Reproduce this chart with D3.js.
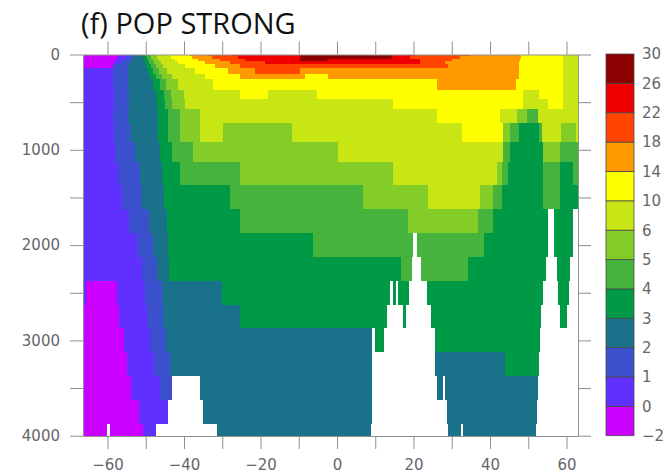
<!DOCTYPE html>
<html><head><meta charset="utf-8">
<script src="https://cdn.jsdelivr.net/npm/d3@7"></script>
<style>body{margin:0;background:#fff} svg{display:block}</style>
</head><body>
<svg id="c" width="666" height="475"></svg>
<script>
const title = "(f) POP STRONG";
const levels = [-2,0,1,2,3,4,5,6,10,14,18,22,26,30];
const colors = ["#cc00ff","#6030ff","#3a50cc","#1a718a","#009945","#46b33c","#84cc28","#c8e614","#ffff00","#ff9900","#ff4500","#ee0000","#8b0000"];
const latMin = -66.4, latMax = 63;
const xTicks = d3.range(-60, 61, 10);
const yTicks = d3.range(0, 4001, 500);
const depthEdges = [0,20,45,70,100,145,200,260,372,470,575,722,915,1130,1370,1620,1870,2125,2375,2625,2875,3125,3375,3625,3875,4000];
// each depth band: runs of [latitude where run starts, temperature] ; null = no data
const bandRuns = [
 [[-66.4,-1],[-56.2,0.5],[-54.3,1.5],[-52.8,2.5],[-51.0,3.5],[-50.2,4.5],[-48.9,5.5],[-47.5,8],[-44.2,12],[-38.4,16],[-34.0,20],[-27.2,24],[-9.7,28],[14.4,24],[20.4,20],[34.7,16],[47.8,12],[59.0,8]],
 [[-66.4,-1],[-57.2,0.5],[-54.9,1.5],[-53.0,2.5],[-50.7,3.5],[-49.8,4.5],[-48.5,5.5],[-47.0,8],[-43.4,12],[-37.9,16],[-32.7,20],[-25.9,24],[-9.7,28],[14.4,24],[19.1,20],[32.1,16],[48.1,12],[59.0,8]],
 [[-66.4,-1],[-57.7,0.5],[-55.6,1.5],[-53.6,2.5],[-50.4,3.5],[-49.4,4.5],[-48.1,5.5],[-46.5,8],[-42.3,12],[-36.3,16],[-30.6,20],[-24.0,24],[-9.7,28],[-2.4,24],[21.7,20],[30.0,16],[47.8,12],[59.0,8]],
 [[-66.4,-1],[-58.3,0.5],[-56.7,1.5],[-54.1,2.5],[-50.2,3.5],[-49.1,4.5],[-47.8,5.5],[-46.0,8],[-41.5,12],[-34.5,16],[-28.0,20],[-18.8,24],[21.7,20],[28.2,16],[47.5,12],[59.0,8]],
 [[-66.4,-1],[-58.5,1.5],[-54.6,2.5],[-49.9,3.5],[-48.7,4.5],[-47.3,5.5],[-45.4,8],[-39.7,12],[-31.9,16],[-25.3,20],[29.0,16],[47.5,12],[59.0,8]],
 [[-66.4,0.5],[-58.5,1.5],[-54.6,2.5],[-49.5,3.5],[-48.1,4.5],[-46.6,5.5],[-44.4,8],[-37.1,12],[-28.5,16],[-21.4,20],[-9.7,16],[47.5,12],[59.0,8]],
 [[-66.4,0.5],[-58.5,1.5],[-54.6,2.5],[-48.9,3.5],[-47.3,4.5],[-45.7,5.5],[-43.2,8],[-34.5,12],[-25.3,16],[-8.4,12],[-2.4,16],[47.5,12],[59.0,8]],
 [[-66.4,0.5],[-58.5,1.5],[-54.6,2.5],[-48.1,3.5],[-46.3,4.5],[-44.6,5.5],[-41.6,8],[-32.4,12],[26.1,16],[46.8,12],[59.0,8]],
 [[-66.4,0.5],[-58.4,1.5],[-54.5,2.5],[-47.3,3.5],[-45.2,4.5],[-43.4,5.5],[-40.0,8],[-25.3,12],[-18.0,8],[-5.2,12],[48.6,8],[52.8,12],[59.0,8]],
 [[-66.4,0.5],[-58.3,1.5],[-54.3,2.5],[-47.0,3.5],[-44.9,4.5],[-43.1,5.5],[-39.7,8],[14.6,12],[48.6,8],[55.1,12],[59.0,8]],
 [[-66.4,0.5],[-58.5,1.5],[-54.6,2.5],[-46.8,3.5],[-44.2,4.5],[-41.0,5.5],[-35.8,8],[26.1,12],[42.6,8],[47.0,5.5],[49.6,4.5],[52.5,8]],
 [[-66.4,0.5],[-58.3,1.5],[-54.1,2.5],[-46.8,3.5],[-44.2,4.5],[-41.0,5.5],[-35.8,8],[-29.8,5.5],[-11.8,8],[32.7,12],[43.4,5.5],[45.2,4.5],[47.5,3.5],[52.8,4.5],[53.6,8],[58.5,5.5],[62.4,8]],
 [[-66.4,0.5],[-58.0,1.5],[-52.8,2.5],[-46.2,3.5],[-43.1,4.5],[-37.6,5.5],[0.3,8],[43.4,4.5],[45.2,3.5],[53.8,5.5],[58.3,4.5]],
 [[-66.4,0.5],[-57.2,1.5],[-51.5,2.5],[-45.7,3.5],[-41.0,4.5],[-25.3,5.5],[14.6,8],[41.8,5.5],[43.1,4.5],[44.7,3.5],[53.8,4.5],[58.3,3.5],[61.7,4.5]],
 [[-66.4,0.5],[-56.2,1.5],[-50.9,2.5],[-45.2,3.5],[-28.0,4.5],[6.8,5.5],[23.8,8],[37.4,5.5],[40.8,4.5],[43.1,3.5],[53.8,4.5],[58.3,3.5]],
 [[-66.4,0.5],[-54.3,1.5],[-49.1,2.5],[-44.5,3.5],[-25.3,4.5],[18.6,5.5],[36.8,4.5],[40.8,3.5],[55.1,null],[56.7,3.5],[61.7,null]],
 [[-66.4,0.5],[-52.2,1.5],[-48.0,2.5],[-44.3,3.5],[-6.3,4.5],[19.8,null],[21.0,4.5],[38.4,3.5],[55.2,null],[56.7,3.5],[61.7,null]],
 [[-66.4,0.5],[-51.0,1.5],[-47.1,2.5],[-43.8,3.5],[16.6,4.5],[19.5,null],[21.9,4.5],[34.3,3.5],[54.6,null],[57.5,3.5],[61.0,null]],
 [[-66.4,0.5],[-65.6,-1],[-57.6,0.5],[-50.2,1.5],[-45.8,2.5],[-30.1,3.5],[13.8,null],[14.6,3.5],[15.4,null],[16.0,3.5],[18.8,null],[23.4,3.5],[53.9,null],[57.8,3.5],[60.7,null]],
 [[-66.4,-1],[-56.9,0.5],[-49.7,1.5],[-45.4,2.5],[-25.3,3.5],[13.0,null],[17.2,3.5],[18.0,null],[24.7,3.5],[53.2,null],[58.3,3.5],[60.0,null]],
 [[-66.4,-1],[-55.8,0.5],[-49.0,1.5],[-44.7,2.5],[9.1,null],[9.9,3.5],[12.3,null],[25.6,3.5],[53.0,null]],
 [[-66.4,-1],[-54.9,0.5],[-47.8,1.5],[-43.6,2.5],[9.1,null],[25.6,2.5],[43.9,3.5],[52.9,null]],
 [[-66.4,-1],[-53.9,0.5],[-46.2,1.5],[-43.1,null],[-35.8,2.5],[9.1,null],[26.2,2.5],[27.6,null],[28.2,2.5],[52.6,null]],
 [[-66.4,-1],[-51.7,0.5],[-44.3,null],[-35.1,2.5],[9.1,null],[28.8,2.5],[52.2,null]],
 [[-66.4,-1],[-60.2,null],[-59.3,-1],[-50.6,0.5],[-47.3,null],[-31.4,2.5],[8.8,null],[29.1,2.5],[32.4,null],[33.0,2.5],[52.0,null]]
];

const svg = d3.select("#c");
const x = d3.scaleLinear().domain([latMin, latMax]).range([83, 578]);
const y = d3.scaleLinear().domain([0, 4000]).range([54.5, 435.7]);
const color = d3.scaleThreshold().domain(levels.slice(1, -1)).range(colors);
const fmt = d3.format("d");

const cells = bandRuns.flatMap((runs, i) => runs.map((r, j) => ({
  lat0: r[0], lat1: j + 1 < runs.length ? runs[j + 1][0] : latMax,
  d0: depthEdges[i], d1: depthEdges[i + 1], v: r[1]
}))).filter(c => c.v !== null);

svg.append("g").selectAll("rect").data(cells).join("rect")
  .attr("x", d => Math.round(x(d.lat0)))
  .attr("width", d => Math.round(x(d.lat1)) - Math.round(x(d.lat0)))
  .attr("y", d => Math.round(y(d.d0)))
  .attr("height", d => Math.round(y(d.d1)) - Math.round(y(d.d0)))
  .attr("fill", d => color(d.v));

const axisColor = "#8f8f8f", textColor = "#666";
function style(g) {
  g.select(".domain").attr("stroke", axisColor);
  g.selectAll(".tick line").attr("stroke", axisColor);
  g.selectAll("text").attr("font-family", "DejaVu Sans").attr("font-size", 15).attr("fill", textColor);
}
const x0 = 83, x1 = 578, y0 = 54.5, y1 = 436;
svg.append("g").attr("transform", `translate(0,${y1})`)
  .call(d3.axisBottom(x).tickValues(xTicks).tickSizeInner(13).tickSizeOuter(0).tickPadding(10)
    .tickFormat(d => d % 20 === 0 ? fmt(d) : "")).call(style);
svg.append("g").attr("transform", `translate(0,${y0})`)
  .call(d3.axisTop(x).tickValues(xTicks).tickSizeInner(13).tickSizeOuter(0).tickFormat("")).call(style);
svg.append("g").attr("transform", `translate(${x0},0)`)
  .call(d3.axisLeft(y).tickValues(yTicks).tickSizeInner(13).tickSizeOuter(0).tickPadding(10)
    .tickFormat(d => d % 1000 === 0 ? fmt(d) : "")).call(style);
svg.append("g").attr("transform", `translate(${x1},0)`)
  .call(d3.axisRight(y).tickValues(yTicks).tickSizeInner(13).tickSizeOuter(0).tickFormat("")).call(style);

// colorbar
const cb = d3.scaleLinear().domain([0, colors.length]).range([435.7, 54]);
svg.append("g").selectAll("rect").data(colors).join("rect")
  .attr("x", 606).attr("width", 28)
  .attr("y", (d, i) => cb(i + 1)).attr("height", (d, i) => cb(i) - cb(i + 1))
  .attr("fill", d => d).attr("stroke", "#4a4a4a").attr("stroke-width", 0.8);
svg.append("g").selectAll("text").data(levels).join("text")
  .attr("x", 642).attr("y", (d, i) => cb(i)).attr("dy", "0.36em")
  .attr("font-family", "DejaVu Sans").attr("font-size", 15).attr("fill", textColor)
  .text(d => fmt(d));

svg.append("text").attr("x", 81).attr("y", 34)
  .attr("font-family", "Open Sans").attr("font-size", 29).attr("fill", "#111")
  .text(title);
</script>
</body></html>
